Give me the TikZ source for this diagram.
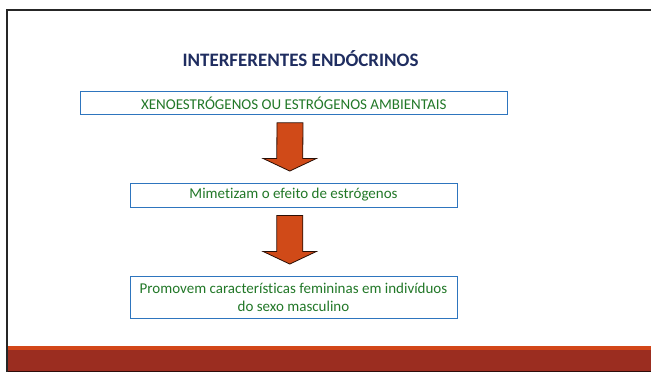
\documentclass[tikz,border=0pt]{standalone}
\usepackage{fontspec}
\setmainfont{Carlito}[Ligatures={NoCommon}]
\usetikzlibrary{calc}

\definecolor{titleblue}{RGB}{31,45,96}
\definecolor{boxblue}{RGB}{46,117,190}
\definecolor{textgreen}{RGB}{34,120,40}
\definecolor{arroworange}{RGB}{208,74,24}
\definecolor{barorange}{RGB}{210,70,25}
\definecolor{barred}{RGB}{155,45,32}

\tikzset{
	box/.style={draw=boxblue,line width=0.9pt,fill=white,text=textgreen,
		inner sep=0pt,font=\fontsize{15}{18}\selectfont,align=center},
	blockarrow/.style={fill=arroworange,draw=black!80!arroworange,line width=0.8pt}
}

\begin{document}
\begin{tikzpicture}[x=1pt,y=-1pt]

\useasboundingbox (0,0) rectangle (651,372);

\def\shaft{13}
\def\head{26.5}

% frame and bottom bar
\fill[color=barred] (8,350) rectangle (651,372);
\fill[color=barorange] (8,346) rectangle (651,350);
\draw[line width=1pt,color=black!70!barred] (8,371.5)--(651,371.5);
\draw[line width=2.2pt,color=black!85] (7,372)--(7,10)--(651,10);

% title and boxes
\node (title) at (300.5,59) {\fontsize{19}{22}\selectfont\bfseries\color{titleblue}INTERFERENTES ENDÓCRINOS};

\node[box,minimum width=426.5pt,minimum height=22.6pt] (xeno) at (293.75,103)
	{XENOESTRÓGENOS OU ESTRÓGENOS AMBIENTAIS};
\node[box,minimum width=327pt,minimum height=24pt] (mimic) at (293.5,195)
	{Mimetizam o efeito de estrógenos};
\node[box,minimum width=327pt,minimum height=42pt] (promo) at (293.5,297)
	{Promovem características femininas em indivíduos\\do sexo masculino};

% arrows
\foreach \from/\to in {xeno/mimic,mimic/promo}{
	\coordinate (top) at ($(\from.south)+(-3.75,8)$);
	\coordinate (tip) at ($(\to.north)+(-3.75,-11.5)$);
	\draw[blockarrow] ($(top)+(-\shaft,0)$)--($(top)+(\shaft,0)$)
		--($(tip)+(\shaft,-12.5)$)--($(tip)+(\head,-12.5)$)--(tip)
		--($(tip)+(-\head,-12.5)$)--($(tip)+(-\shaft,-12.5)$)--cycle;
}

\end{tikzpicture}
\end{document}
